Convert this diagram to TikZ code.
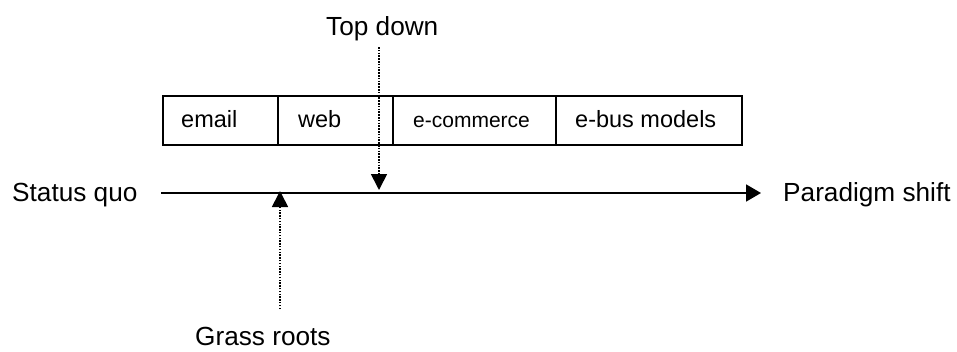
\documentclass[tikz,border=0pt]{standalone}
\usepackage{fontspec}
\setmainfont{Liberation Sans}
\usetikzlibrary{arrows.meta}
\begin{document}
\begin{tikzpicture}[x=1pt,y=-1pt,
  cell/.style={draw,line width=1.8pt,minimum height=49pt,inner sep=0pt,anchor=north west},
  celltext/.style={anchor=base west,inner sep=0pt,font=\fontsize{23.5}{26}\selectfont},
  label/.style={anchor=base west,inner sep=0pt,font=\fontsize{26.2}{30}\selectfont},
  axis/.style={line width=1.8pt,-{Triangle[length=15pt,width=17pt]}},
  hint/.style={line width=1.7pt,dash pattern=on 1.5pt off 1.3pt,-{Triangle[length=16pt,width=16pt]}}]
\useasboundingbox (0,0) rectangle (957,351);

% row of stages
\node[cell,minimum width=115pt] (email) at (162,95) {};
\node[cell,minimum width=115pt] (web) at (277,95) {};
\node[cell,minimum width=163pt] (ecom) at (392,95) {};
\node[cell,minimum width=186pt] (ebus) at (555,95) {};
\node[celltext] (temail) at (181,127) {email};
\node[celltext] (tweb) at (298,127) {web};
\node[celltext,font=\fontsize{21}{24}\selectfont] (tecom) at (413,127) {e-commerce};
\node[celltext] (tebus) at (575,127) {e-bus models};

% main axis
\node[label] (quo) at (12,201) {Status quo};
\node[label] (shift) at (783,201) {Paradigm shift};
\coordinate (a0) at (161,193);
\coordinate (a1) at (761,193);
\draw[axis] (a0) -- (a1);

% top-down influence
\node[label] (top) at (326,35) {Top down};
\coordinate (t0) at (379,47);
\coordinate (t1) at (379,190);
\draw[hint] (t0) -- (t1);

% grass-roots influence
\node[label] (grass) at (195,345) {Grass roots};
\coordinate (g0) at (280,309);
\coordinate (g1) at (280,191);
\draw[hint] (g0) -- (g1);
\end{tikzpicture}
\end{document}
